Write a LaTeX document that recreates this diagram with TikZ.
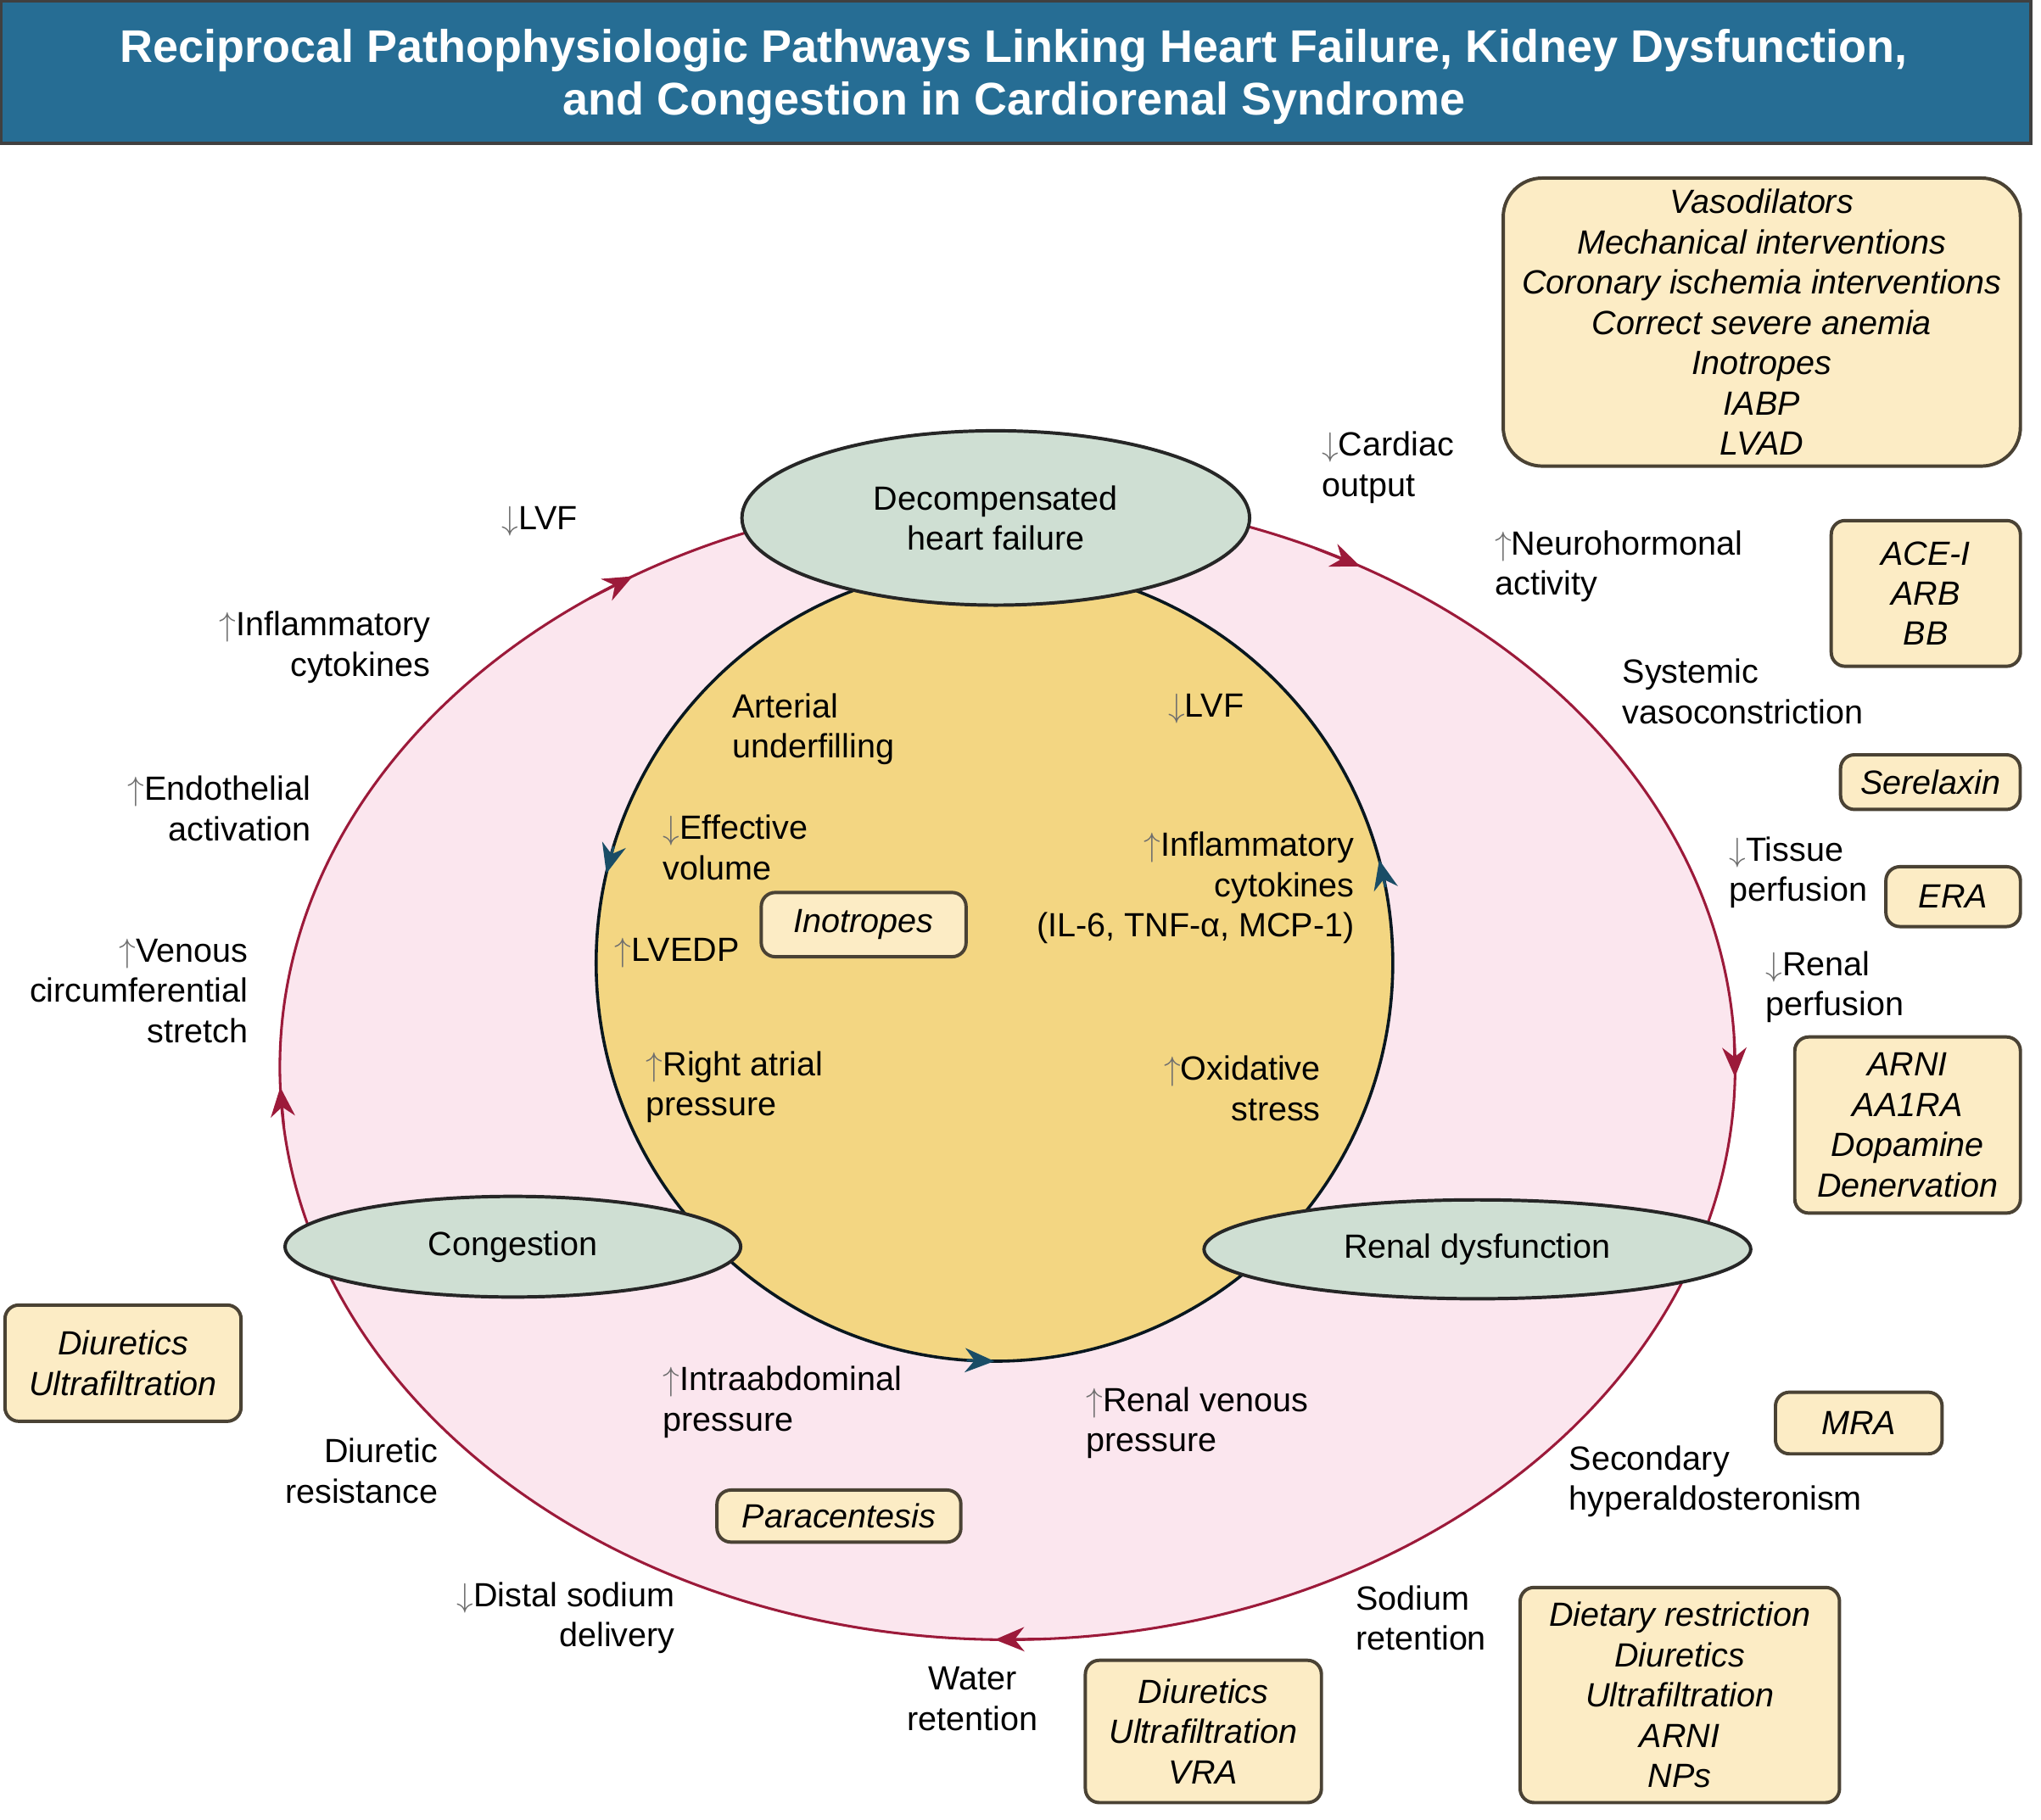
\documentclass[tikz,border=0pt]{standalone}
\usepackage{fontspec}
\setmainfont{Liberation Sans}
\usepackage{amsmath}
\usepackage{xcolor}
\usetikzlibrary{arrows.meta,positioning,calc,shapes.geometric}
\definecolor{crtitle}{HTML}{266D94}
\definecolor{crpink}{HTML}{FBE6EE}
\definecolor{crred}{HTML}{9C1A3A}
\definecolor{crgold}{HTML}{F3D682}
\definecolor{crteal}{HTML}{1A4D66}
\definecolor{crgreen}{HTML}{CFDFD3}
\definecolor{crcream}{HTML}{FCECC5}
\definecolor{crbrown}{HTML}{4A4234}
\definecolor{crgray}{HTML}{6E6E6E}
\newcommand{\upar}{{\color{crgray}$\uparrow$}}
\newcommand{\dnar}{{\color{crgray}$\downarrow$}}
\newcommand{\crfont}{\fontsize{11}{13.2}\selectfont}
\tikzset{
  stateNode/.style={ellipse, draw=black!85, fill=crgreen, line width=1.1pt, align=center, inner sep=0pt, font=\crfont},
  drugBox/.style={draw=crbrown, fill=crcream, rounded corners=1.6mm, line width=1.1pt, align=center, inner sep=0pt, font=\crfont\itshape},
  causeLabel/.style={inner sep=0pt, yshift=-0.35mm, font=\crfont},
  ringArrow/.style={-{Stealth[length=3.4mm,width=2.8mm,inset=1.1mm]}, draw=crred, fill=crred, line width=0.85pt},
  loopArrow/.style={-{Stealth[length=3.4mm,width=2.8mm,inset=1.1mm]}, draw=crteal, fill=crteal, line width=0.9pt}
}
\begin{document}
\begin{tikzpicture}[x=0.15mm,y=-0.15mm]
  \useasboundingbox (0,0) rectangle (1568,1398);
  % title bar
  \draw[fill=crtitle, draw=black!75, line width=1pt] (1,1) rectangle (1560,110);
  \node[text=white, align=center, inner sep=0pt, font=\fontsize{15}{17.4}\selectfont\bfseries] (title) at (779,59)
        {Reciprocal Pathophysiologic Pathways Linking Heart Failure, Kidney Dysfunction,\\and Congestion in Cardiorenal Syndrome};

  % outer ring
  \coordinate (ring) at (774,820);
  \draw[fill=crpink, draw=crred, line width=0.85pt] (ring) ellipse [x radius=559, y radius=440];
  \foreach \t in {239,299,1,91,178}
    \draw[ringArrow] ($(ring)+({559*cos(\t-4)},{440*sin(\t-4)})$) -- ($(ring)+({559*cos(\t)},{440*sin(\t)})$);

  % inner loop
  \coordinate (loop) at (764,740);
  \draw[fill=crgold, draw=black!70!crteal, line width=1pt] (loop) circle [radius=306];
  \foreach \t in {193,90,345}
    \draw[loopArrow] ($(loop)+({306*cos(\t+4)},{306*sin(\t+4)})$) -- ($(loop)+({306*cos(\t)},{306*sin(\t)})$);

  % states
  \node[stateNode, minimum width=58.5mm, minimum height=20.1mm] (hf) at (765,398) {Decompensated\\heart failure};
  \node[stateNode, minimum width=52.5mm, minimum height=11.6mm] (cong) at (394,958) {Congestion};
  \node[stateNode, minimum width=63mm, minimum height=11.4mm] (renal) at (1135,960) {Renal dysfunction};

  % outer labels
  \node[causeLabel, anchor=west] (lvfOut) at (385,398) {\dnar LVF};
  \node[causeLabel, anchor=west, align=left] (cardiac) at (1015,357) {\dnar Cardiac\\output};
  \node[causeLabel, anchor=west, align=left] (neuro) at (1148,433) {\upar Neurohormonal\\activity};
  \node[causeLabel, anchor=west, align=left] (systemic) at (1246,529) {Systemic\\vasoconstriction};
  \node[causeLabel, anchor=west, align=left] (tissue) at (1328,668) {\dnar Tissue\\perfusion};
  \node[causeLabel, anchor=west, align=left] (renalPerf) at (1356,756) {\dnar Renal\\perfusion};
  \node[causeLabel, anchor=west, align=left] (hyperaldo) at (1205,1136) {Secondary\\hyperaldosteronism};
  \node[causeLabel, anchor=west, align=left] (sodium) at (1041,1241) {Sodium\\retention};
  \node[causeLabel, align=center] (water) at (747,1303) {Water\\retention};
  \node[causeLabel, anchor=east, align=right] (distal) at (519,1241) {\dnar Distal sodium\\delivery};
  \node[causeLabel, anchor=east, align=right] (resist) at (337,1128) {Diuretic\\resistance};
  \node[causeLabel, anchor=east, align=right] (venous) at (191,759) {\upar Venous\\circumferential\\stretch};
  \node[causeLabel, anchor=east, align=right] (endo) at (239,619) {\upar Endothelial\\activation};
  \node[causeLabel, anchor=east, align=right] (inflamOut) at (331,495) {\upar Inflammatory\\cytokines};

  % inner labels
  \node[causeLabel, anchor=west, align=left] (arterial) at (562,558) {Arterial\\underfilling};
  \node[causeLabel, anchor=west] (lvfIn) at (897,542) {\dnar LVF};
  \node[causeLabel, anchor=west, align=left] (effective) at (509,649) {\dnar Effective\\volume};
  \node[causeLabel, anchor=west] (lvedp) at (472,730) {\upar LVEDP};
  \node[causeLabel, anchor=east, align=right] (inflamIn) at (1041,680) {\upar Inflammatory\\cytokines\\(IL-6, TNF-α, MCP-1)};
  \node[causeLabel, anchor=west, align=left] (atrial) at (496,833) {\upar Right atrial\\pressure};
  \node[causeLabel, anchor=east, align=right] (oxid) at (1015,834) {\upar Oxidative\\stress};
  \node[causeLabel, anchor=west, align=left] (abdo) at (509,1075) {\upar Intraabdominal\\pressure};
  \node[causeLabel, anchor=west, align=left] (renalVen) at (834,1091) {\upar Renal venous\\pressure};

  % therapies
  \node[drugBox, rounded corners=4.5mm, minimum width=59.6mm, minimum height=33.2mm] (vaso) at (1353.5,247.5)
    {Vasodilators\\Mechanical interventions\\Coronary ischemia interventions\\Correct severe anemia\\Inotropes\\IABP\\LVAD};
  \node[drugBox, minimum width=21.8mm, minimum height=16.8mm] (acei) at (1479.5,456) {ACE-I\\ARB\\BB};
  \node[drugBox, minimum width=20.7mm, minimum height=6.3mm] (serel) at (1483,601) {Serelaxin};
  \node[drugBox, minimum width=15.5mm, minimum height=6.9mm] (era) at (1500.5,689) {ERA};
  \node[drugBox, minimum width=26mm, minimum height=20.3mm] (arni) at (1465.5,864.5) {ARNI\\AA1RA\\Dopamine\\Denervation};
  \node[drugBox, minimum width=19.2mm, minimum height=7.1mm] (mra) at (1428,1093.5) {MRA};
  \node[drugBox, minimum width=36.8mm, minimum height=24.8mm] (diet) at (1290.5,1302.5) {Dietary restriction\\Diuretics\\Ultrafiltration\\ARNI\\NPs};
  \node[drugBox, minimum width=27.2mm, minimum height=16.4mm] (vra) at (924.5,1330.5) {Diuretics\\Ultrafiltration\\VRA};
  \node[drugBox, minimum width=28.1mm, minimum height=6mm] (para) at (644.5,1165) {Paracentesis};
  \node[drugBox, minimum width=27.2mm, minimum height=13.4mm] (diurL) at (94.5,1047.5) {Diuretics\\Ultrafiltration};
  \node[drugBox, minimum width=23.6mm, minimum height=7.4mm] (ino) at (663.5,710.5) {Inotropes};
\end{tikzpicture}
\end{document}
